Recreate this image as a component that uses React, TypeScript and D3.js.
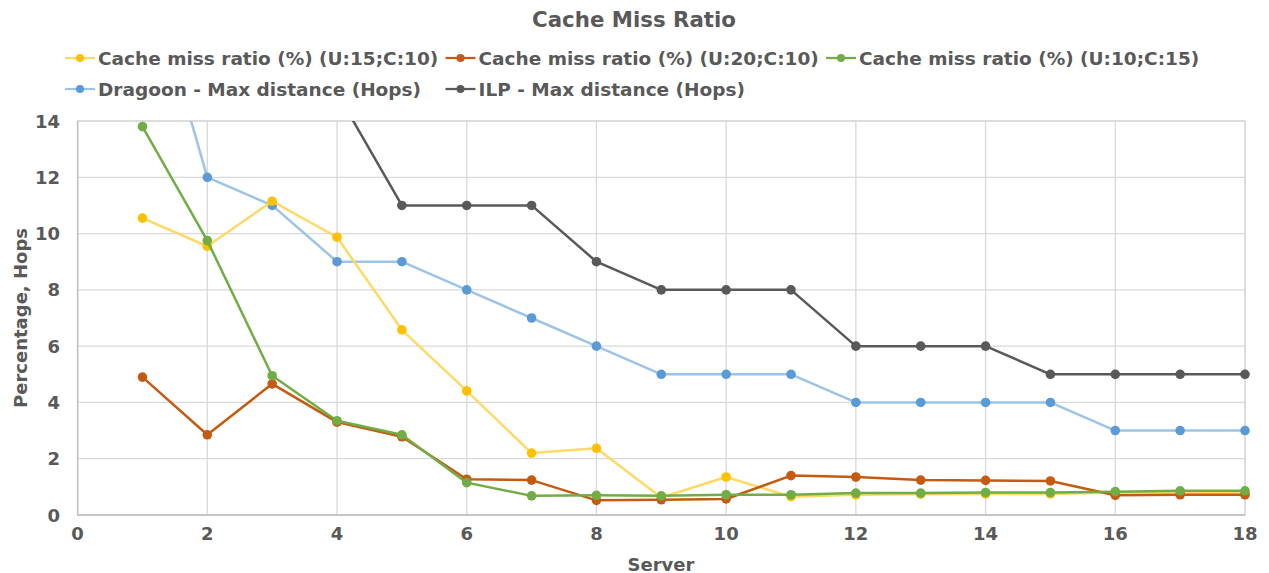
import React from "react";
import * as d3 from "d3";

const servers = [1, 2, 3, 4, 5, 6, 7, 8, 9, 10, 11, 12, 13, 14, 15, 16, 17, 18];
const cacheU15C10 = [10.55, 9.55, 11.15, 9.87, 6.58, 4.41, 2.2, 2.37, 0.62, 1.35, 0.65, 0.72, 0.74, 0.75, 0.75, 0.8, 0.8, 0.8];
const cacheU20C10 = [4.9, 2.85, 4.66, 3.3, 2.78, 1.27, 1.24, 0.52, 0.54, 0.57, 1.4, 1.35, 1.24, 1.23, 1.21, 0.7, 0.72, 0.72];
const cacheU10C15 = [13.8, 9.75, 4.95, 3.35, 2.85, 1.15, 0.68, 0.7, 0.68, 0.72, 0.72, 0.78, 0.78, 0.8, 0.8, 0.83, 0.86, 0.86];
const dragoonHops = [20, 12, 11, 9, 9, 8, 7, 6, 5, 5, 5, 4, 4, 4, 4, 3, 3, 3];
const ilpHops: (number | null)[] = [null, null, null, 15, 11, 11, 11, 9, 8, 8, 8, 6, 6, 6, 5, 5, 5, 5];
const xTicks = [0, 2, 4, 6, 8, 10, 12, 14, 16, 18];
const yTicks = [0, 2, 4, 6, 8, 10, 12, 14];

const seriesNames = [
  "Cache miss ratio (%) (U:15;C:10)",
  "Cache miss ratio (%) (U:20;C:10)",
  "Cache miss ratio (%) (U:10;C:15)",
  "Dragoon - Max distance (Hops)",
  "ILP - Max distance (Hops)",
];

const series = [
  { name: seriesNames[0], values: cacheU15C10, line: "#FFD966", marker: "#FFC000" },
  { name: seriesNames[1], values: cacheU20C10, line: "#C55A11", marker: "#C55A11" },
  { name: seriesNames[2], values: cacheU10C15, line: "#70AD47", marker: "#70AD47" },
  { name: seriesNames[3], values: dragoonHops, line: "#9DC3E6", marker: "#5B9BD5" },
  { name: seriesNames[4], values: ilpHops, line: "#595959", marker: "#595959" },
];

const W = 1269;
const H = 573;
const FONT = "'DejaVu Sans', Verdana, sans-serif";
const TXT = "#595959";

export default function App() {
  const x = d3.scaleLinear().domain([0, 18]).range([77.6, 1245]);
  const y = d3.scaleLinear().domain([0, 14]).range([515, 121]);
  const [x0, x1] = x.range();
  const [y0, y1] = y.range();
  const [dMin, dMax] = y.domain();

  const drawOrder = [3, 4, 0, 1, 2];

  return (
    <svg width={W} height={H} style={{ position: "absolute", left: 0, top: 0, background: "#fff" }}>
      <defs>
        <clipPath id="plot">
          <rect x={x0} y={y1} width={x1 - x0} height={y0 - y1} />
        </clipPath>
      </defs>
      <rect x={0} y={0} width={W} height={H} fill="#fff" />
      <text x={634} y={19} textAnchor="middle" dominantBaseline="central" fontFamily={FONT} fontWeight="bold" fontSize={21.3} fill={TXT}>
        Cache Miss Ratio
      </text>

      {/* legend */}
      {series.map((s, i) => {
        const col = i < 3 ? i : i - 3;
        const row = i < 3 ? 0 : 1;
        const lx = 65 + col * 380.5;
        const ly = row === 0 ? 58 : 89;
        return (
          <g key={s.name}>
            <line x1={lx} x2={lx + 30} y1={ly} y2={ly} stroke={s.line} strokeWidth={2.25} />
            <circle cx={lx + 15} cy={ly} r={4} fill={s.marker} />
            <text x={lx + 33} y={ly} dominantBaseline="central" fontFamily={FONT} fontWeight="bold" fontSize={18.5} fill={TXT}>
              {s.name}
            </text>
          </g>
        );
      })}

      {/* grid */}
      {yTicks.map((t) => (
        <line key={"gy" + t} x1={x0} x2={x1} y1={y(t)} y2={y(t)} stroke="#D9D9D9" strokeWidth={1.3} />
      ))}
      {xTicks.map((t) => (
        <line key={"gx" + t} x1={x(t)} x2={x(t)} y1={y1} y2={y0} stroke="#D9D9D9" strokeWidth={1.3} />
      ))}
      <rect x={x0} y={y1} width={x1 - x0} height={y0 - y1} fill="none" stroke="#D9D9D9" strokeWidth={1.3} />
      <line x1={x0} x2={x0} y1={y1} y2={y0} stroke="#BFBFBF" strokeWidth={1.3} />
      <line x1={x0} x2={x1} y1={y0} y2={y0} stroke="#BFBFBF" strokeWidth={1.3} />

      {/* tick labels */}
      {yTicks.map((t) => (
        <text key={"ly" + t} x={60} y={y(t)} textAnchor="end" dominantBaseline="central" fontFamily={FONT} fontWeight="bold" fontSize={18} fill={TXT}>
          {t}
        </text>
      ))}
      {xTicks.map((t) => (
        <text key={"lx" + t} x={x(t)} y={533} textAnchor="middle" dominantBaseline="central" fontFamily={FONT} fontWeight="bold" fontSize={18} fill={TXT}>
          {t}
        </text>
      ))}
      <text x={661} y={564} textAnchor="middle" dominantBaseline="central" fontFamily={FONT} fontWeight="bold" fontSize={18} fill={TXT}>
        Server
      </text>
      <text transform={`translate(20,${(y0 + y1) / 2}) rotate(-90)`} textAnchor="middle" dominantBaseline="central" fontFamily={FONT} fontWeight="bold" fontSize={18} fill={TXT}>
        Percentage, Hops
      </text>

      {/* series */}
      {drawOrder.map((i) => {
        const s = series[i];
        const pts = servers.map((sv, k) => ({ sv, v: s.values[k] as number | null }));
        const gen = d3
          .line<{ sv: number; v: number | null }>()
          .defined((d) => d.v != null)
          .x((d) => x(d.sv))
          .y((d) => y(d.v as number));
        return (
          <g key={s.name}>
            <path d={gen(pts) || ""} fill="none" stroke={s.line} strokeWidth={2.5} strokeLinejoin="round" clipPath="url(#plot)" />
            {pts
              .filter((d) => d.v != null && (d.v as number) >= dMin && (d.v as number) <= dMax)
              .map((d) => (
                <circle key={d.sv} cx={x(d.sv)} cy={y(d.v as number)} r={4.8} fill={s.marker} />
              ))}
          </g>
        );
      })}
    </svg>
  );
}
